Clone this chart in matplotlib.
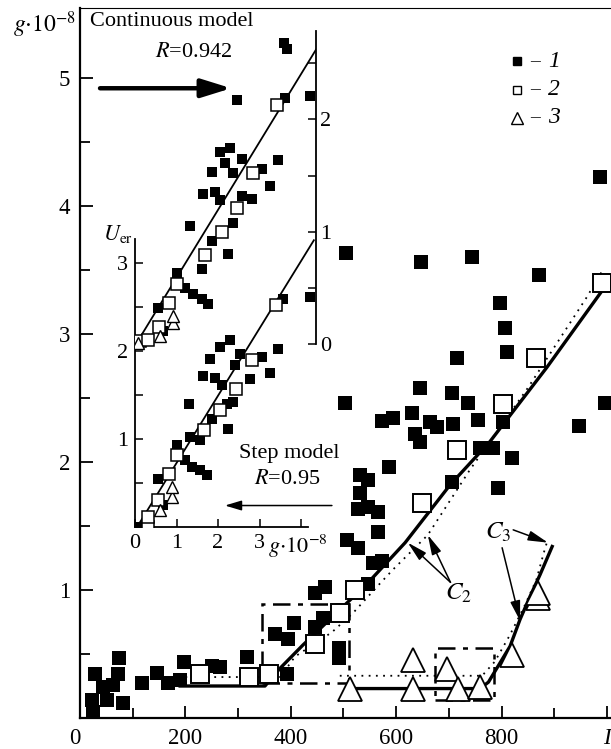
import numpy as np
import matplotlib.pyplot as plt
from matplotlib.patches import Rectangle

plt.rcParams['font.family'] = ['Liberation Serif', 'DejaVu Serif']
plt.rcParams['mathtext.fontset'] = 'stix'

# ---------------- main plot data: I vs g*1e8 ----------------
# series 1 (filled squares)
s1_I = [28, 23, 25, 52, 44, 63, 72, 74, 82, 118, 146, 167, 190, 197, 250, 266, 317,
        370, 395, 406, 393, 446, 461, 491, 491, 446, 465, 546, 556, 573, 507, 528,
        566, 528, 546, 566, 531, 531, 546, 586, 573, 594, 630, 636, 645, 664, 677,
        708, 706, 503, 645, 706, 736, 715, 755, 759, 784, 803, 820, 793, 797, 806,
        810, 744, 647, 505, 871, 947, 996, 987]
s1_g = [0.34, 0.14, 0.05, 0.14, 0.24, 0.26, 0.34, 0.47, 0.12, 0.27, 0.35, 0.27, 0.30,
        0.44, 0.41, 0.40, 0.48, 0.66, 0.62, 0.74, 0.34, 0.71, 0.78, 0.55, 0.47, 0.98,
        1.02, 1.05, 1.21, 1.23, 1.39, 1.33, 1.45, 1.63, 1.65, 1.61, 1.76, 1.90, 1.86,
        1.96, 2.32, 2.34, 2.38, 2.22, 2.16, 2.31, 2.27, 2.30, 1.84, 2.46, 2.58, 2.54,
        2.46, 2.81, 2.33, 2.11, 2.11, 2.31, 2.03, 1.80, 3.24, 3.05, 2.86, 3.60, 3.56,
        3.63, 3.46, 2.28, 2.46, 4.23]
# series 2 (open squares)
s2_I = [228, 321, 359, 446, 493, 522, 649, 715, 803, 865, 990]
s2_g = [0.34, 0.32, 0.34, 0.58, 0.82, 1.00, 1.68, 2.09, 2.45, 2.81, 3.40]
# series 3 (triangles)
s3_I = [512, 632, 632, 696, 717, 759, 820, 869, 869]
s3_g = [0.23, 0.45, 0.23, 0.38, 0.23, 0.24, 0.49, 0.94, 0.98]

# model curves C2 and C3 (solid and dotted)
c2_I = [190, 351, 380, 423, 545, 617, 702, 778, 886, 991]
c2_g = [0.25, 0.25, 0.39, 0.57, 1.05, 1.37, 1.82, 2.16, 2.74, 3.34]
c2d_I = [200, 380, 408, 478, 518, 569, 594, 660, 740, 850, 962, 992]
c2d_g = [0.32, 0.32, 0.48, 0.67, 0.82, 1.05, 1.16, 1.43, 1.94, 2.58, 3.29, 3.50]
c3_I = [512, 759, 775, 816, 835, 854, 873, 896]
c3_g = [0.23, 0.23, 0.28, 0.56, 0.77, 0.95, 1.12, 1.34]
c3d_I = [493, 763, 787, 816, 844, 866, 880, 888]
c3d_g = [0.33, 0.33, 0.44, 0.65, 0.88, 1.08, 1.29, 1.40]

# dash-dot boxes (I0, I1, g0, g1)
box1 = [345, 510, 0.27, 0.89]
box2 = [674, 786, 0.14, 0.55]

# ---------------- inset data: g*1e8 vs U_er ----------------
# step model (left axis)
st1_g = [0.05, 0.55, 0.67, 1.01, 1.20, 1.37, 1.57, 1.73, 1.30, 1.33, 1.57, 1.86, 2.24,
         2.22, 2.36, 1.64, 1.93, 2.10, 1.81, 2.05, 2.29, 2.53, 2.41, 2.77, 3.06, 3.25,
         3.45, 3.57, 4.22]
st1_u = [0.00, 0.55, 0.25, 0.93, 0.76, 0.68, 0.65, 0.59, 1.40, 1.02, 0.99, 1.23, 1.11,
         1.40, 1.42, 1.72, 1.69, 1.61, 1.91, 2.05, 2.13, 1.97, 1.84, 1.68, 1.93, 1.75,
         2.02, 2.59, 2.61]
st2_g = [0.31, 0.31, 0.55, 0.82, 1.01, 1.66, 2.05, 2.43, 2.82, 3.40]
st2_u = [0.00, 0.11, 0.31, 0.60, 0.82, 1.10, 1.33, 1.57, 1.90, 2.52]
st3_g = [0.60, 0.89, 0.89]
st3_u = [0.19, 0.34, 0.45]
st_fit_g = [0.05, 4.31]
st_fit_u = [0.00, 3.26]

# continuous model (right axis)
ct1_g = [3.59, 3.66, 3.61, 4.22, 2.46, 2.05, 2.29, 3.45, 3.06, 3.25, 2.58, 2.17, 1.86,
         2.36, 1.64, 1.93, 2.05, 2.58, 2.82, 2.36, 1.33, 2.24, 1.61, 1.86, 1.01, 1.20,
         1.40, 1.61, 1.76, 0.67, 0.55, 0.05]
ct1_u = [2.68, 2.63, 2.19, 2.21, 2.17, 1.71, 1.75, 1.64, 1.56, 1.41, 1.65, 1.61, 1.53,
         1.52, 1.34, 1.35, 1.28, 1.32, 1.29, 1.08, 1.05, 0.80, 0.67, 0.92, 0.63, 0.50,
         0.45, 0.40, 0.36, 0.12, 0.32, 0.00]
ct2_g = [0.12, 0.31, 0.58, 0.82, 1.01, 1.69, 2.10, 2.46, 2.84, 3.42]
ct2_u = [0.03, 0.04, 0.15, 0.37, 0.54, 0.79, 1.00, 1.21, 1.52, 2.13]
ct3_g = [0.07, 0.60, 0.92, 0.92]
ct3_u = [0.01, 0.07, 0.19, 0.25]
ct_fit_g = [0.02, 4.36]
ct_fit_u = [0.00, 2.62]

W, H = 611, 749
fig = plt.figure(figsize=(W / 100, H / 100), dpi=100)


def box(x0, y0, x1, y1):
    # pixel box (top-left origin) -> figure fraction rect
    return [x0 / W, 1 - y1 / H, (x1 - x0) / W, (y1 - y0) / H]


ax = fig.add_axes(box(80, 8, 611, 718))
ax.set_xlim(0, 1007.6)
ax.set_ylim(0, 5.547)
ax.spines['right'].set_visible(False)
ax.spines['top'].set_linewidth(0.8)
ax.spines['left'].set_linewidth(1.6)
ax.spines['bottom'].set_linewidth(1.6)

ax.set_xticks(np.arange(0, 1001, 200))
ax.set_xticks(np.arange(100, 1001, 200), minor=True)
ax.set_xticklabels(['0', '200', '400', '600', '800', 'I'])
ax.get_xticklabels()[-1].set_fontstyle('italic')
ax.get_xticklabels()[0].set_ha('right')
ax.set_yticks(np.arange(0, 5.1, 1))
ax.set_yticks(np.arange(0.5, 5.1, 1), minor=True)
ax.set_yticklabels(['', '1', '2', '3', '4', '5'])
ax.tick_params(which='both', direction='in', width=1.3, labelsize=16.5, pad=7)
ax.tick_params(which='major', length=9)
ax.tick_params(which='minor', length=7)

# curves
ax.plot(c2_I, c2_g, color='k', lw=2.4, zorder=3)
ax.plot(c2d_I, c2d_g, color='k', lw=1.3, ls=(0, (1, 3)), zorder=3)
ax.plot(c3_I, c3_g, color='k', lw=2.4, zorder=3)
ax.plot(c3d_I, c3d_g, color='k', lw=1.3, ls=(0, (1, 3)), zorder=3)

for b in (box1, box2):
    ax.add_patch(Rectangle((b[0], b[2]), b[1] - b[0], b[3] - b[2], fill=False,
                           ec='k', lw=1.8, ls=(0, (7, 3, 2, 3)), zorder=2))

ax.plot(s1_I, s1_g, 's', color='k', ms=10, mew=0, zorder=4)
ax.plot(s2_I, s2_g, 's', mfc='white', mec='k', ms=13, mew=1.4, zorder=5)
ax.plot(s3_I, s3_g, '^', mfc='white', mec='k', ms=17.5, mew=1.3, zorder=6)

# legend
leg_g = [5.13, 4.91, 4.69]
ax.plot([829], [leg_g[0]], 's', color='k', ms=6)
ax.plot([829], [leg_g[1]], 's', mfc='white', mec='k', ms=6, mew=1)
ax.plot([829], [leg_g[2]], '^', mfc='white', mec='k', ms=8, mew=1)
for yv, lab in zip(leg_g, ['1', '2', '3']):
    ax.text(863, yv, '\u2013', fontsize=14, ha='center', va='center')
    ax.text(900, yv, lab, fontsize=17, style='italic', ha='center', va='center')

# annotations
ax.text(19, 5.44, 'Continuous model', fontsize=16, ha='left', va='center')
ax.text(216, 5.20, r'$R$=0.942', fontsize=16, ha='center', va='center')
ax.annotate('', xy=(287, 4.92), xytext=(38, 4.92),
            arrowprops=dict(arrowstyle='-|>,head_length=0.9,head_width=0.28',
                            lw=3.2, color='k', mutation_scale=20, shrinkA=0, shrinkB=0))
ax.text(397, 2.07, 'Step model', fontsize=16, ha='center', va='center')
ax.text(393, 1.86, r'$R$=0.95', fontsize=16, ha='center', va='center')
ax.annotate('', xy=(275, 1.66), xytext=(478, 1.66),
            arrowprops=dict(arrowstyle='-|>,head_length=0.5,head_width=0.15',
                            lw=1.1, color='k', mutation_scale=20, shrinkA=0, shrinkB=0))

ax.text(718, 0.97, r'$C_2$', fontsize=18, ha='center', va='center')
for xy in [(622, 1.37), (660, 1.43)]:
    ax.annotate('', xy=xy, xytext=(703, 1.06),
                arrowprops=dict(arrowstyle='-|>,head_length=0.6,head_width=0.15',
                                lw=1.1, color='k', mutation_scale=20, shrinkA=0, shrinkB=0))
ax.text(793, 1.45, r'$C_3$', fontsize=18, ha='center', va='center')
ax.annotate('', xy=(888, 1.37), xytext=(822, 1.47),
            arrowprops=dict(arrowstyle='-|>,head_length=0.6,head_width=0.15',
                            lw=1.1, color='k', mutation_scale=20, shrinkA=0, shrinkB=0))
ax.annotate('', xy=(835, 0.76), xytext=(801, 1.33),
            arrowprops=dict(arrowstyle='-|>,head_length=0.6,head_width=0.15',
                            lw=1.1, color='k', mutation_scale=20, shrinkA=0, shrinkB=0))

fig.text(13 / W, 1 - 25 / H, r'$g{\cdot}10^{-8}$', fontsize=17, ha='left', va='center')

# ---------------- inset ----------------
ax_in = fig.add_axes(box(135, 30, 316, 527))
ax_in.patch.set_alpha(0)
ax_in.set_xlim(0, 4.361)
ax_in.set_ylim(0, 5.65)
for s in ('top', 'right'):
    ax_in.spines[s].set_visible(False)
ax_in.spines['left'].set_bounds(0, 3.27)
ax_in.spines['bottom'].set_bounds(0, 4.17)
ax_in.spines['left'].set_linewidth(1.3)
ax_in.spines['bottom'].set_linewidth(1.3)
ax_in.set_xticks([0, 1, 2, 3, 4])
ax_in.set_xticklabels(['0', '1', '2', '3', ''])
ax_in.set_yticks(np.arange(0, 3.1, 0.5))
ax_in.set_yticklabels(['', '', '1', '', '2', '', '3'])
ax_in.tick_params(direction='in', length=6, width=1.1, labelsize=16, pad=5)

ax_c = ax_in.twinx()
ax_c.set_ylim(-1.625, 2.795)
for s in ('top', 'left', 'bottom'):
    ax_c.spines[s].set_visible(False)
ax_c.spines['right'].set_bounds(0, 2.79)
ax_c.spines['right'].set_linewidth(1.3)
ax_c.set_yticks(np.arange(0, 2.6, 0.5))
ax_c.set_yticklabels(['0', '', '1', '', '2', ''])
ax_c.tick_params(direction='in', length=6, width=1.1, labelsize=16, pad=3)

ax_in.plot(st_fit_g, st_fit_u, color='k', lw=1.3, zorder=3)
ax_in.plot(st1_g, st1_u, 's', color='k', ms=7.5, mew=0, zorder=4)
ax_in.plot(st2_g, st2_u, 's', mfc='white', mec='k', ms=9, mew=1.1, zorder=5)
ax_in.plot(st3_g, st3_u, '^', mfc='white', mec='k', ms=8.5, mew=1.0, zorder=6)

ax_c.plot(ct_fit_g, ct_fit_u, color='k', lw=1.3, zorder=3)
ax_c.plot(ct1_g, ct1_u, 's', color='k', ms=7.5, mew=0, zorder=4)
ax_c.plot(ct2_g, ct2_u, 's', mfc='white', mec='k', ms=9, mew=1.1, zorder=5)
ax_c.plot(ct3_g, ct3_u, '^', mfc='white', mec='k', ms=8.5, mew=1.0, zorder=6)

fig.text(103 / W, 1 - 234 / H, r'$U_{\rm er}$', fontsize=16, ha='left', va='center')
fig.text(268 / W, 1 - 546 / H, r'$g{\cdot}10^{-8}$', fontsize=16, ha='left', va='center')

fig.savefig('out.png', dpi=100)
